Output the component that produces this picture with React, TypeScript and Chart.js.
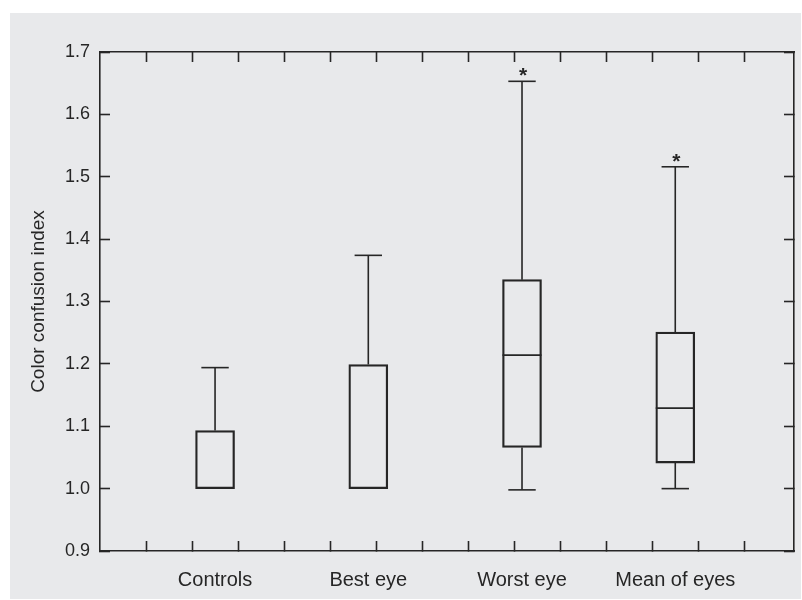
import { useEffect, useRef } from 'react';
import { Chart, registerables } from 'chart.js';

Chart.register(...registerables);

// ---- data ----
const categories = ['Controls', 'Best eye', 'Worst eye', 'Mean of eyes'];
const positions = [2.5, 5.83, 9.17, 12.5];
const q1 = [1.0, 1.0, 1.066, 1.041];
const q3 = [1.093, 1.199, 1.335, 1.251];
const medians: (number | null)[] = [null, null, 1.214, 1.129];
const whiskerLow: (number | null)[] = [null, null, 0.998, 1.0];
const whiskerHigh = [1.194, 1.374, 1.653, 1.516];
const starred = [false, false, true, true];
const yTickValues = [0.9, 1.0, 1.1, 1.2, 1.3, 1.4, 1.5, 1.6, 1.7];
const xMinorTicks = [1, 2, 3, 4, 5, 6, 7, 8, 9, 10, 11, 12, 13, 14];
const X_MIN = 0;
const X_MAX = 15.08;
const Y_MIN = 0.9;
const Y_MAX = 1.7;
const yTitle = 'Color confusion index';

const INK = '#262626';
const FONT = "'Liberation Sans', Arial, Helvetica, sans-serif";

export default function App() {
  const ref = useRef<HTMLCanvasElement | null>(null);

  useEffect(() => {
    if (!ref.current) return;

    const boxData = positions.map((p, i) => ({ x: p, y: [q1[i], q3[i]] }));

    const whiskerData: any[] = [];
    positions.forEach((p, i) => {
      whiskerData.push({ x: p, y: q3[i] }, { x: p, y: whiskerHigh[i] }, { x: p, y: null });
      if (whiskerLow[i] !== null) {
        whiskerData.push({ x: p, y: whiskerLow[i] }, { x: p, y: q1[i] }, { x: p, y: null });
      }
    });

    const capData: any[] = [];
    positions.forEach((p, i) => {
      capData.push({ x: p, y: whiskerHigh[i] });
      if (whiskerLow[i] !== null) capData.push({ x: p, y: whiskerLow[i] });
    });

    const medianData: any[] = [];
    positions.forEach((p, i) => {
      if (medians[i] !== null) medianData.push({ x: p, y: medians[i] });
    });

    const isCenter = (v: number) => positions.some((p) => Math.abs(p - v) < 1e-6);

    const bgPlugin = {
      id: 'bg',
      beforeDraw(chart: any) {
        const ctx = chart.ctx;
        ctx.save();
        ctx.fillStyle = '#ffffff';
        ctx.fillRect(0, 0, chart.width, chart.height);
        ctx.fillStyle = '#e8e9eb';
        ctx.fillRect(10, 13, 791, 586);
        ctx.restore();
      },
    };

    const starPlugin = {
      id: 'stars',
      afterDatasetsDraw(chart: any) {
        const ctx = chart.ctx;
        const xs = chart.scales.x;
        const ys = chart.scales.y;
        ctx.save();
        ctx.fillStyle = INK;
        ctx.font = `bold 21px ${FONT}`;
        ctx.textAlign = 'center';
        ctx.textBaseline = 'alphabetic';
        const m = ctx.measureText('*');
        const asc = m.actualBoundingBoxAscent;
        const desc = m.actualBoundingBoxDescent;
        positions.forEach((p, i) => {
          if (!starred[i]) return;
          const x = xs.getPixelForValue(p) + 1;
          const capY = ys.getPixelForValue(whiskerHigh[i]);
          const centerY = capY - 9;
          const baseline = centerY - (desc - asc) / 2;
          ctx.fillText('*', x, baseline);
        });
        ctx.restore();
      },
    };

    const chart = new Chart(ref.current, {
      type: 'scatter',
      data: {
        datasets: [
          {
            type: 'bar',
            data: boxData as any,
            backgroundColor: 'rgba(0,0,0,0)',
            borderColor: INK,
            borderWidth: 1.6,
            borderSkipped: false,
            barThickness: 39,
            grouped: false,
          } as any,
          {
            type: 'line',
            data: whiskerData,
            borderColor: INK,
            borderWidth: 1.6,
            pointRadius: 0,
            spanGaps: false,
            fill: false,
          } as any,
          {
            type: 'scatter',
            data: capData,
            pointStyle: 'line',
            pointRadius: 13.7,
            pointHoverRadius: 13.7,
            pointBorderWidth: 1.6,
            pointBorderColor: INK,
            showLine: false,
          } as any,
          {
            type: 'scatter',
            data: medianData,
            pointStyle: 'line',
            pointRadius: 19.5,
            pointHoverRadius: 19.5,
            pointBorderWidth: 1.6,
            pointBorderColor: INK,
            showLine: false,
          } as any,
        ],
      },
      options: {
        responsive: false,
        animation: false,
        devicePixelRatio: 1,
        events: [],
        layout: { autoPadding: false, padding: { left: 10, top: 52, right: 8, bottom: 0 } },
        plugins: { legend: { display: false }, tooltip: { enabled: false } },
        scales: {
          x: {
            type: 'linear',
            position: 'bottom',
            min: X_MIN,
            max: X_MAX,
            offset: false,
            afterBuildTicks(scale: any) {
              scale.ticks = [...xMinorTicks, ...positions]
                .sort((a, b) => a - b)
                .map((v) => ({ value: v }));
            },
            afterFit(scale: any) {
              scale.height = 49;
              scale.paddingLeft = 0;
              scale.paddingRight = 0;
            },
            ticks: {
              autoSkip: false,
              maxRotation: 0,
              minRotation: 0,
              padding: 27,
              color: INK,
              font: { size: 20, family: FONT },
              callback(value: any) {
                const idx = positions.findIndex((p) => Math.abs(p - value) < 1e-6);
                return idx >= 0 ? categories[idx] : '';
              },
            },
            grid: {
              drawOnChartArea: false,
              drawTicks: true,
              tickLength: -10,
              tickWidth: 1.6,
              tickColor: (ctx: any) => (ctx.tick && isCenter(ctx.tick.value) ? 'rgba(0,0,0,0)' : INK),
              offset: false,
            },
            border: { display: true, color: INK, width: 1.6 },
          },
          x2: {
            type: 'linear',
            position: 'top',
            min: X_MIN,
            max: X_MAX,
            offset: false,
            afterBuildTicks(scale: any) {
              scale.ticks = xMinorTicks.map((v) => ({ value: v }));
            },
            afterFit(scale: any) {
              scale.height = 0;
              scale.paddingLeft = 0;
              scale.paddingRight = 0;
            },
            ticks: { display: false },
            grid: {
              drawOnChartArea: false,
              drawTicks: true,
              tickLength: -10,
              tickWidth: 1.6,
              tickColor: INK,
            },
            border: { display: true, color: INK, width: 1.6 },
          },
          y: {
            type: 'linear',
            position: 'left',
            min: Y_MIN,
            max: Y_MAX,
            afterBuildTicks(scale: any) {
              scale.ticks = yTickValues.map((v) => ({ value: v }));
            },
            afterFit(scale: any) {
              scale.width = 90;
              scale.paddingTop = 0;
              scale.paddingBottom = 0;
            },
            ticks: {
              padding: 20,
              color: INK,
              font: { size: 18, family: FONT },
              callback(value: any) {
                return Number(value).toFixed(1);
              },
            },
            title: {
              display: true,
              text: yTitle,
              color: INK,
              font: { size: 19, family: FONT },
              padding: { top: 17, bottom: 0 },
            },
            grid: {
              drawOnChartArea: false,
              drawTicks: true,
              tickLength: -10,
              tickWidth: 1.6,
              tickColor: INK,
            },
            border: { display: true, color: INK, width: 1.6 },
          },
          y2: {
            type: 'linear',
            position: 'right',
            min: Y_MIN,
            max: Y_MAX,
            afterBuildTicks(scale: any) {
              scale.ticks = yTickValues.map((v) => ({ value: v }));
            },
            afterFit(scale: any) {
              scale.width = 0;
              scale.paddingTop = 0;
              scale.paddingBottom = 0;
            },
            ticks: { display: false },
            grid: {
              drawOnChartArea: false,
              drawTicks: true,
              tickLength: -10,
              tickWidth: 1.6,
              tickColor: INK,
            },
            border: { display: true, color: INK, width: 1.6 },
          },
        },
      } as any,
      plugins: [bgPlugin, starPlugin],
    });

    return () => chart.destroy();
  }, []);

  return (
    <div style={{ position: 'fixed', left: 0, top: 0, width: 802, height: 600 }}>
      <canvas ref={ref} width={802} height={600} style={{ display: 'block', width: 802, height: 600 }} />
    </div>
  );
}
